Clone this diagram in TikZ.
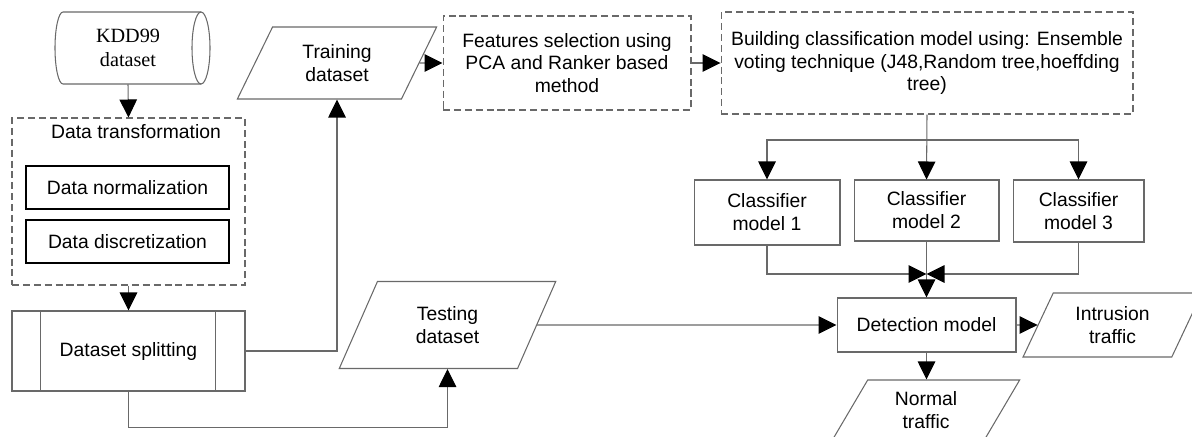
\documentclass[tikz,border=0pt]{standalone}
\usepackage{fontspec}
\setmainfont{Liberation Sans}
\newfontfamily\serifface{Liberation Serif}
\usetikzlibrary{arrows.meta,shapes.geometric,calc}
\definecolor{lg}{RGB}{105,105,105}
\begin{document}
\begin{tikzpicture}[x=0.02cm,y=-0.02cm,
 every node/.style={font=\fontsize{11}{13}\selectfont, align=center, inner sep=0pt},
 box/.style={draw=lg, line width=0.6pt, rectangle},
 dbox/.style={box, dash pattern=on 4pt off 2.2pt},
 bbox/.style={draw=black, line width=1.1pt, rectangle},
 io/.style={draw=lg, line width=0.6pt, trapezium, trapezium stretches=true},
 arr/.style={draw=lg, line width=0.6pt, -{Triangle[length=0.36cm,width=0.35cm,color=black]}},
 ln/.style={draw=lg, line width=0.6pt}]
\useasboundingbox (0,0) rectangle (1192,436);

% KDD99 cylinder
\node[minimum width=2.8cm, minimum height=1.44cm, font=\serifface\fontsize{11.5}{13.5}\selectfont] (kdd) at (128,48) {KDD99\\dataset};
\draw[ln] (201,12) -- (63,12) arc[start angle=270,end angle=90,x radius=8,y radius=36] -- (201,84);
\draw[ln] (201,48) ellipse[x radius=9, y radius=36];

% Data transformation
\node[dbox, minimum width=4.66cm, minimum height=3.34cm] (dt) at (128.5,201.5) {};
\node (dttitle) at (136,132) {Data transformation};
\node[bbox, minimum width=4.06cm, minimum height=0.86cm] (norm) at (127.5,187.5) {Data normalization};
\node[bbox, minimum width=4.06cm, minimum height=0.86cm] (disc) at (127.5,241.5) {Data discretization};

% Dataset splitting
\node[box, minimum width=4.66cm, minimum height=1.6cm] (split) at (128.5,351) {Dataset splitting};
\draw[ln] ([xshift=0.58cm]split.north west) -- ([xshift=0.58cm]split.south west);
\draw[ln] ([xshift=-0.6cm]split.north east) -- ([xshift=-0.6cm]split.south east);

% Training / testing
\node[io, trapezium left angle=63, trapezium right angle=117, minimum width=4cm, minimum height=1.44cm] (train) at (337,63) {Training\\dataset};
\node[io, trapezium left angle=65, trapezium right angle=115, minimum width=4.34cm, minimum height=1.74cm] (test) at (447.5,325) {Testing\\dataset};

% Feature selection, building
\node[dbox, minimum width=4.96cm, minimum height=1.88cm] (feat) at (567,63) {Features selection using\\PCA and Ranker based\\method};
\node[dbox, minimum width=8.24cm, minimum height=2.04cm] (bld) at (927,63) {Building classification model using: Ensemble\\voting technique (J48,Random tree,hoeffding\\tree)};

% Classifiers
\node[box, minimum width=2.92cm, minimum height=1.3cm] (c1) at (767,212.5) {Classifier\\model 1};
\node[box, minimum width=2.9cm, minimum height=1.22cm] (c2) at (926.5,210.5) {Classifier\\model 2};
\node[box, minimum width=2.62cm, minimum height=1.24cm] (c3) at (1078.5,211) {Classifier\\model 3};

% Detection and outputs
\node[box, minimum width=3.58cm, minimum height=1.08cm] (det) at (926.5,325) {Detection model};
\node[io, trapezium left angle=63, trapezium right angle=117, minimum width=3.58cm, minimum height=1.28cm] (intr) at (1112.5,325) {Intrusion\\traffic};
\node[io, trapezium left angle=63, trapezium right angle=117, minimum width=3.76cm, minimum height=1.2cm] (normal) at (926,410) {Normal\\traffic};

% Connectors
\draw[arr] (kdd.south) -- (dt.north);
\draw[arr] (dt.south) -- (split.north);
\draw[arr] (split.east) -| (train.south);
\draw[arr] (split.south) -- ++(0,36) -| (test.south);
\draw[arr] (train.east) -- (feat.west);
\draw[arr] (feat.east) -- (bld.west);
\coordinate (br) at (926.5,140);
\draw[arr] (bld.south) -- (c2.north);
\draw[arr] (br) -| (c1.north);
\draw[arr] (br) -| (c3.north);
\coordinate (m) at (926.5,274);
\draw[arr] (c1.south) |- (m);
\draw[arr] (c3.south) |- (m);
\draw[arr] (c2.south) -- (det.north);
\draw[arr] (test.east) -- (det.west);
\draw[arr] (det.east) -- (intr.west);
\draw[arr] (det.south) -- (det.south |- normal.north);
\end{tikzpicture}
\end{document}
